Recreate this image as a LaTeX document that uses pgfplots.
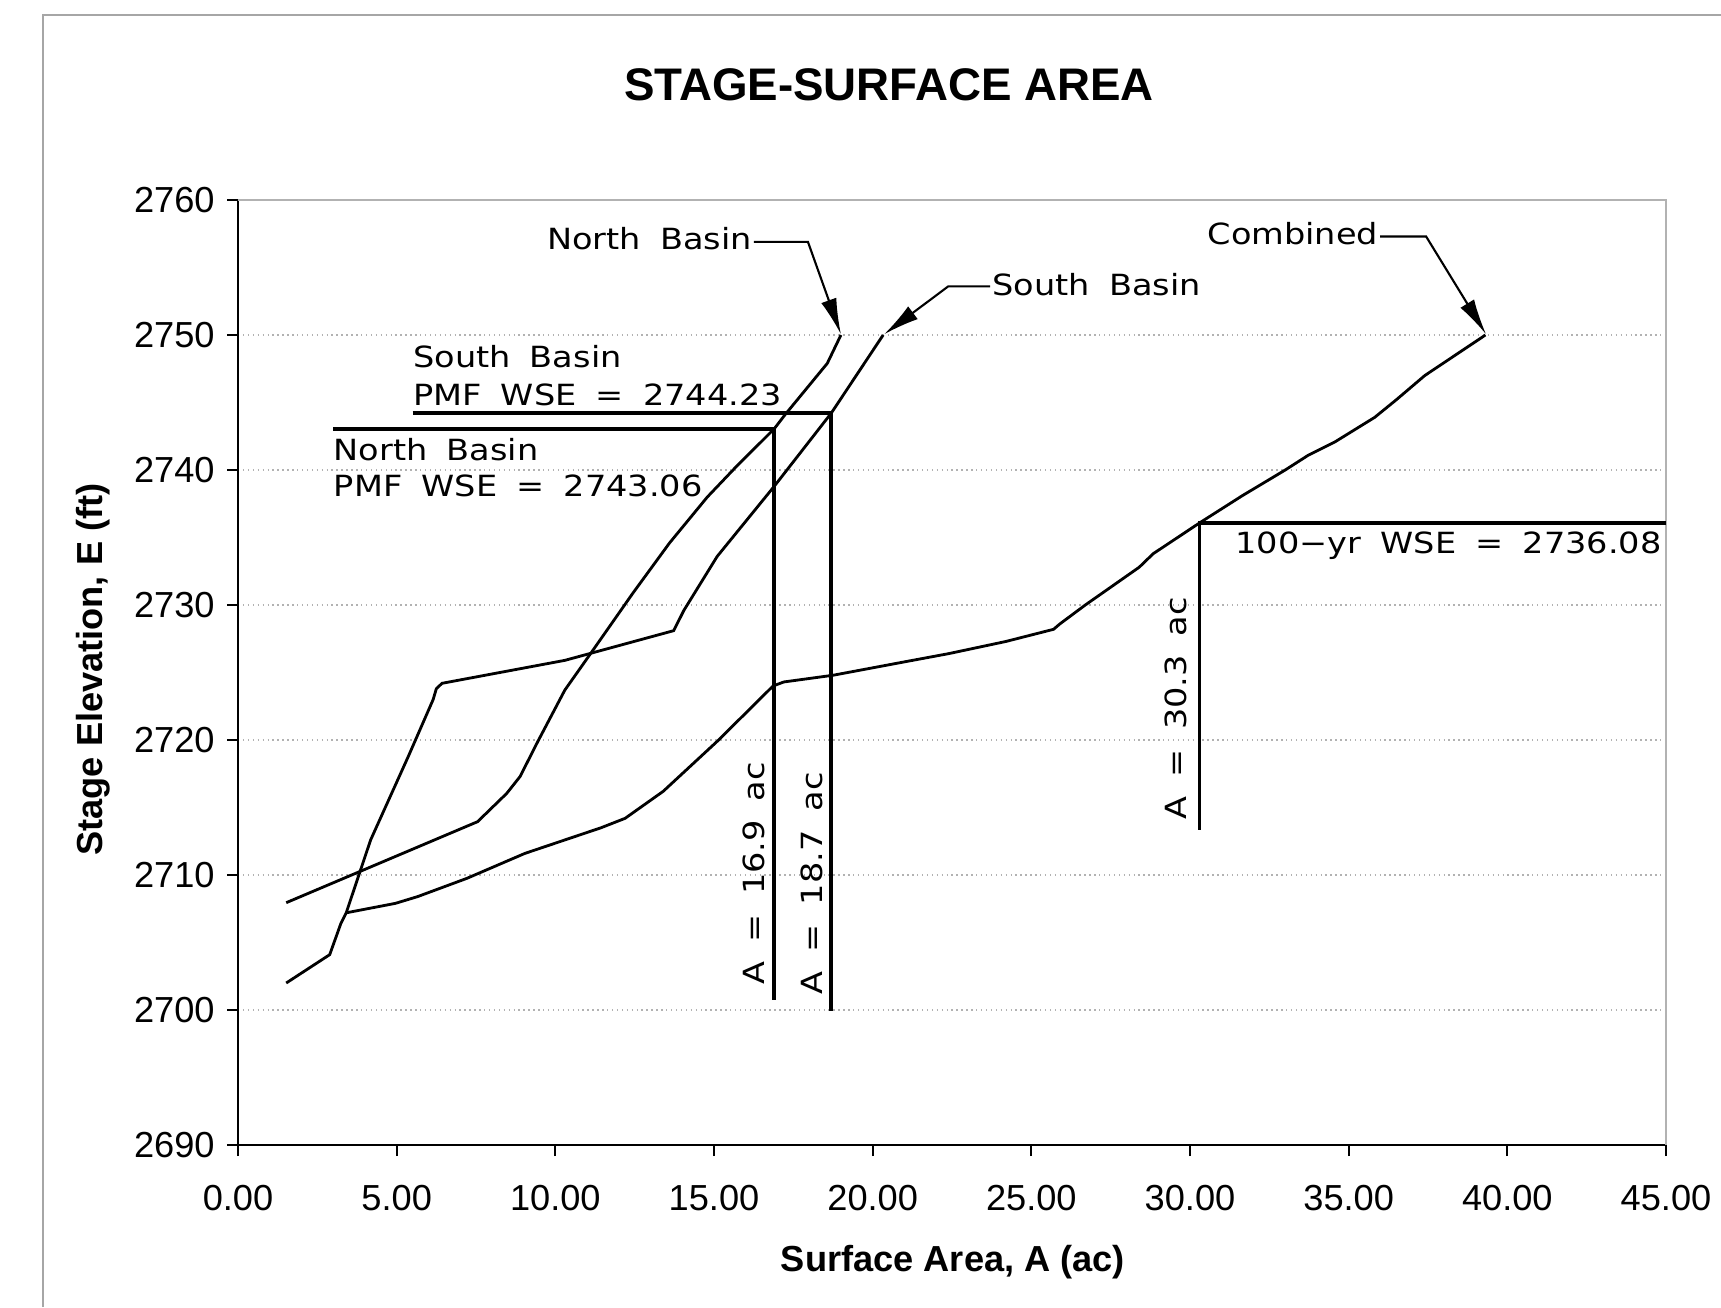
\documentclass[border=0pt]{standalone}
\usepackage{fontspec}
\setmainfont{Liberation Sans}
\newfontfamily\cad{DejaVu Sans}[FakeStretch=1.15, WordSpace=1.8]
\usepackage{pgfplots}
\pgfplotsset{compat=1.18}
\usetikzlibrary{arrows.meta}

\newcommand{\cadfont}{\cad\fontsize{8.3}{9.8}\selectfont}

\begin{document}
\begin{tikzpicture}
\useasboundingbox (0,0) rectangle (17.21,13.07);
% page frame (cropped scan)
\draw[gray!70, line width=0.4pt] (0.43,0) -- (0.43,12.92) -- (17.21,12.92);

\begin{axis}[
    at={(2.38cm,1.62cm)}, anchor=south west,
    scale only axis, width=14.28cm, height=9.45cm,
    xmin=0, xmax=45, ymin=2690, ymax=2760,
    xtick={0,5,...,45}, ytick={2690,2700,...,2760},
    axis lines=left,
    axis line style={-, line width=0.7pt, black},
    tick align=outside, major tick length=0.11cm,
    tick style={black, line width=0.5pt},
    ymajorgrids,
    grid style={densely dotted, gray!60, line width=0.4pt},
    scaled ticks=false,
    /pgf/number format/assume math mode=true,
    ticklabel style={font=\fontsize{10.3}{12}\selectfont},
    xticklabel style={yshift=-0.17cm, /pgf/number format/fixed,
        /pgf/number format/fixed zerofill, /pgf/number format/precision=2},
    yticklabel style={/pgf/number format/1000 sep={}},
    clip=false,
]
% top and right frame of the plot area
\draw[gray!60, line width=0.4pt] (rel axis cs:0,1) -- (rel axis cs:1,1) -- (rel axis cs:1,0);

% South Basin
\addplot[black, line width=0.8pt] coordinates {
    (1.52,2702.0) (2.89,2704.1) (3.24,2706.4) (3.41,2707.2) (4.18,2712.6)
    (5.37,2718.8) (6.15,2723.0) (6.25,2723.8) (6.43,2724.2) (10.3,2725.9)
    (13.73,2728.1) (14.05,2729.6) (15.1,2733.6) (16.9,2738.8) (18.7,2744.23)
    (20.33,2750.0)
};
% North Basin
\addplot[black, line width=0.8pt] coordinates {
    (1.52,2707.95) (7.55,2713.95) (8.47,2716.05) (8.89,2717.3) (9.45,2719.9)
    (10.3,2723.7) (11.2,2726.7) (12.45,2730.9) (13.6,2734.6) (14.79,2738.0)
    (15.64,2740.1) (16.9,2743.06) (17.24,2744.1) (18.57,2747.9) (19.0,2750.0)
};
% Combined
\addplot[black, line width=0.8pt] coordinates {
    (3.41,2707.2) (4.96,2707.9) (5.66,2708.4) (7.21,2709.75) (9.04,2711.6)
    (11.44,2713.5) (12.2,2714.2) (13.4,2716.2) (15.1,2719.9) (16.86,2724.0)
    (17.2,2724.3) (18.76,2724.8) (20.8,2725.7) (22.4,2726.4) (24.2,2727.3)
    (25.7,2728.2) (25.9,2728.6) (26.7,2730.0) (28.4,2732.8) (28.84,2733.8)
    (30.3,2736.08) (31.65,2738.1) (33.0,2740.0) (33.73,2741.1) (34.58,2742.1)
    (35.82,2743.9) (36.5,2745.2) (37.4,2747.0) (39.31,2750.0)
};

% WSE reference lines
\addplot[black, line width=1.1pt] coordinates {(5.5,2744.23) (18.7,2744.23) (18.7,2699.9)};
\addplot[black, line width=1.1pt] coordinates {(3.0,2743.06) (16.9,2743.06) (16.9,2700.75)};
\addplot[black, line width=1.1pt] coordinates {(45,2736.08) (30.3,2736.08) (30.3,2713.3)};

% leaders
\addplot[black, line width=0.6pt, -{Latex[length=3.6mm,width=1.6mm]}]
    coordinates {(16.26,2756.9) (17.96,2756.9) (19.0,2750.05)};
\addplot[black, line width=0.6pt, -{Latex[length=3.6mm,width=1.6mm]}]
    coordinates {(23.7,2753.6) (22.38,2753.6) (20.36,2750.05)};
\addplot[black, line width=0.6pt, -{Latex[length=3.6mm,width=1.6mm]}]
    coordinates {(35.99,2757.3) (37.44,2757.3) (39.33,2750.05)};

\node[font=\cadfont, anchor=base east, inner sep=0pt] at (axis cs:16.22,2756.3) {North Basin};
\node[font=\cadfont, anchor=base west, inner sep=0pt] at (axis cs:23.75,2752.96) {South Basin};
\node[font=\cadfont, anchor=base east, inner sep=0pt] at (axis cs:35.95,2756.67) {Combined};

\node[font=\cadfont, anchor=base west, inner sep=0pt] at (axis cs:5.5,2747.6) {South Basin};
\node[font=\cadfont, anchor=base west, inner sep=0pt] at (axis cs:5.5,2744.81) {PMF WSE = 2744.23};
\node[font=\cadfont, anchor=base west, inner sep=0pt] at (axis cs:3.0,2740.7) {North Basin};
\node[font=\cadfont, anchor=base west, inner sep=0pt] at (axis cs:3.0,2738.02) {PMF WSE = 2743.06};
\node[font=\cadfont, anchor=base east, inner sep=0pt] at (axis cs:44.88,2733.83) {100−yr WSE = 2736.08};

\node[font=\cadfont, rotate=90, anchor=base west, inner sep=0pt] at (axis cs:16.6,2701.85) {A = 16.9 ac};
\node[font=\cadfont, rotate=90, anchor=base west, inner sep=0pt] at (axis cs:18.43,2701.1) {A = 18.7 ac};
\node[font=\cadfont, rotate=90, anchor=base west, inner sep=0pt] at (axis cs:29.89,2714.07) {A = 30.3 ac};
\end{axis}

\node[font=\bfseries\fontsize{13}{15}\selectfont] at (8.89,12.225) {STAGE-SURFACE AREA};
\node[font=\bfseries\fontsize{10.3}{12}\selectfont] at (9.53,0.448) {Surface Area, A (ac)};
\node[font=\bfseries\fontsize{10.3}{12}\selectfont, rotate=90] at (0.933,6.375) {Stage Elevation, E (ft)};
\end{tikzpicture}
\end{document}
